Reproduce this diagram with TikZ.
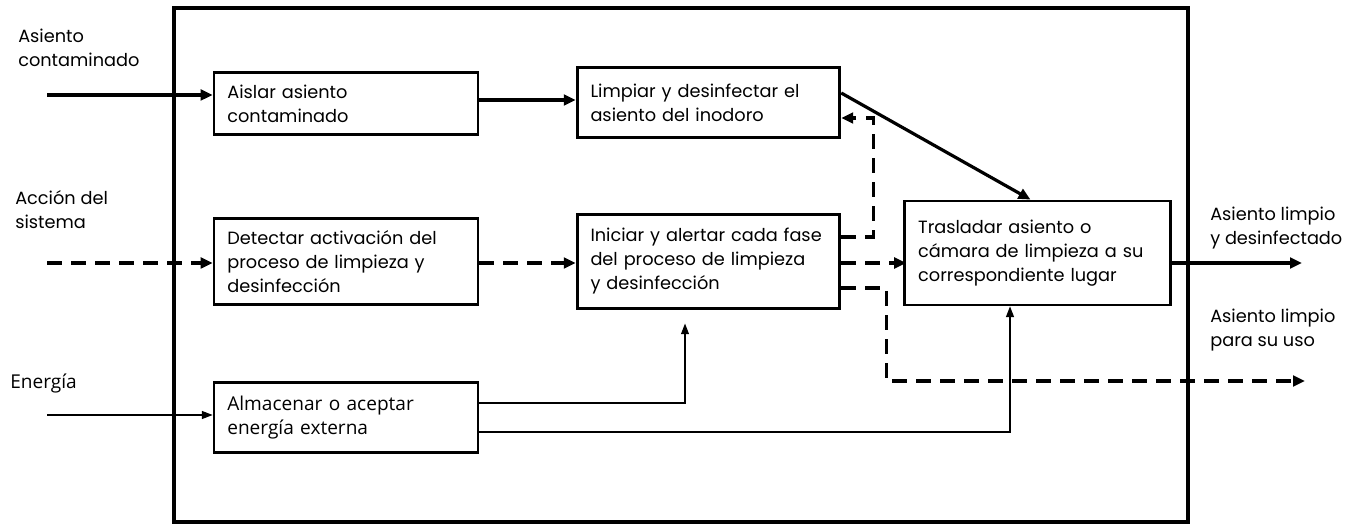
\documentclass[tikz,border=0pt]{standalone}
\usepackage{fontspec}
\setmainfont{Poppins}
\newfontfamily\thinfont{Open Sans}
\usetikzlibrary{arrows.meta,calc}

\tikzstyle{block}=[draw, line width=2.1pt, align=left, inner xsep=10pt, inner ysep=3pt, font=\fontsize{13.3}{18}\selectfont]
\tikzstyle{lbl}=[anchor=west, align=left, inner sep=0pt, font=\fontsize{13.3}{18}\selectfont]
\tikzstyle{flow}=[draw, line width=2.4pt, -{Triangle[length=9pt,width=8pt]}]
\tikzstyle{signal}=[flow, dash pattern=on 11pt off 7pt]
\tikzstyle{power}=[draw, line width=0.8pt, -{Triangle[length=8pt,width=6pt]}]

\begin{document}
\begin{tikzpicture}[x=0.75pt, y=-0.75pt]
	\useasboundingbox (0,0) rectangle (1363,527);
	% system boundary
	\draw[line width=2.4pt] (174,8) rectangle (1188,522);

	% functions
	\foreach \pos/\name/\w/\h/\txt in {{(346,103.5)/aislar/178pt/47pt/{Aislar asiento\\contaminado}},
	        {(708.5,102.5)/limpiar/177pt/52pt/{Limpiar y desinfectar el\\asiento del inodoro}},
	        {(346,261.5)/detectar/178pt/65pt/{Detectar activación del\\proceso de limpieza y\\desinfección}},
	        {(708.5,261.5)/iniciar/177pt/70pt/{Iniciar y alertar cada fase\\del proceso de limpieza\\y desinfección}},
	        {(1037.5,253)/trasladar/179pt/78pt/{Trasladar asiento o\\cámara de limpieza a su\\correspondiente lugar}}}
	    \node[block, text width=\w, minimum height=\h] (\name) at \pos {\txt};
	\node[block, text width=178pt, minimum height=53pt, font=\thinfont\fontsize{14.3}{18}\selectfont] (almacenar) at (346,417.5) {Almacenar o aceptar\\energía externa};

	% inputs and outputs
	\node[lbl] (lasiento) at (18,48) {Asiento\\contaminado};
	\node[lbl] (laccion) at (15,210) {Acción del\\sistema};
	\node[lbl, font=\thinfont\fontsize{14.3}{18}\selectfont] (lenergia) at (10,383) {Energía};
	\node[lbl] (ldesinf) at (1210,228) {Asiento limpio\\y desinfectado};
	\node[lbl] (luso) at (1210,330) {Asiento limpio\\para su uso};

	\coordinate (inA) at (47,95);
	\coordinate (inS) at (47,263);
	\coordinate (inE) at (47,415);
	\coordinate (outA) at (1302,263);
	\coordinate (outB) at (1305,381);

	% material flow
	\path[flow] (inA) -- (inA -| aislar.west);
	\path[flow] ($(aislar.east)+(0,-3.5)$) -- ($(limpiar.west)+(0,-2.5)$);
	\path[flow] ($(limpiar.east)+(0,-9.5)$) -- ($(trasladar.north)+(-7,0)$);
	\path[flow] (trasladar.east |- outA) -- (outA);

	% signals
	\path[signal] (inS) -- (inS -| detectar.west);
	\path[signal] ($(detectar.east)+(0,1.5)$) -- ($(iniciar.west)+(0,1.5)$);
	\path[signal] ($(iniciar.east)+(0,-24.5)$) -- ++(32,0) |- ($(limpiar.east)+(0,15.5)$);
	\path[signal] ($(iniciar.east)+(0,1.5)$) -- ($(iniciar.east)+(65,1.5)$);
	\path[signal] ($(iniciar.east)+(0,26.5)$) -- ++(45,0) |- (outB);

	% energy
	\path[power] (inE) -- (inE -| almacenar.west);
	\path[power] ($(almacenar.east)+(0,-14.5)$) -| ($(iniciar.south)+(-23.5,14)$);
	\path[power] ($(almacenar.east)+(0,14.5)$) -| ($(trasladar.south)+(-27.5,0)$);
\end{tikzpicture}
\end{document}
